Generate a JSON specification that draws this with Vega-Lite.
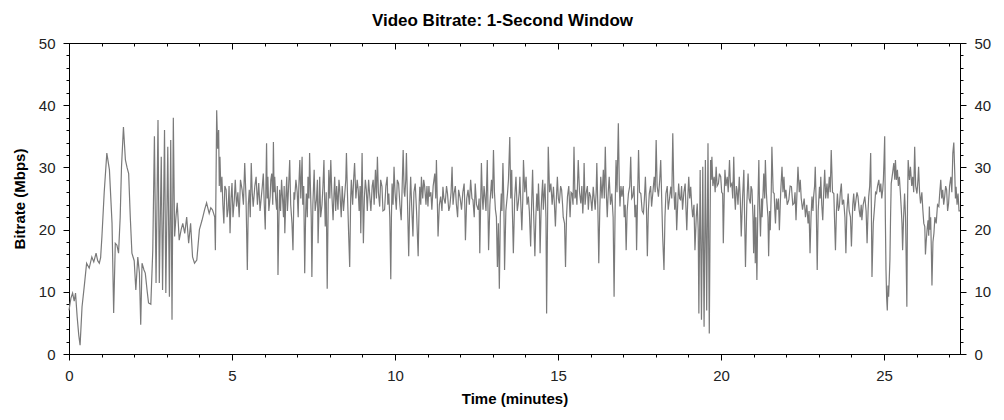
{
"$schema": "https://vega.github.io/schema/vega-lite/v6.json",
"width": 891, "height": 311,
"autosize": {"type": "none"},
"padding": {"left": 69, "top": 43, "right": 44, "bottom": 66},
"background": "white",
"title": {"text": "Video Bitrate: 1-Second Window", "font": "Liberation Sans", "fontSize": 17, "fontWeight": "bold", "color": "#000", "offset": 6, "dx": -12},
"config": {
  "view": {"stroke": "#000", "strokeWidth": 1},
  "axis": {"domainColor": "#000", "tickColor": "#000", "labelFont": "Liberation Sans", "labelFontSize": 15, "labelColor": "#222", "titleFont": "Liberation Sans", "titleFontSize": 15, "titleFontWeight": "bold", "titleColor": "#000", "grid": false, "labelFlush": false, "labelOverlap": false, "labelPadding": 8}
},
"data": {"values": [
{"t":0,"v":7},{"t":0.02,"v":7.7},{"t":0.06,"v":9},{"t":0.11,"v":9.8},{"t":0.16,"v":8.5},{"t":0.2,"v":9.8},{"t":0.25,"v":6},{"t":0.3,"v":3},{"t":0.34,"v":1.4},{"t":0.4,"v":7.6},{"t":0.47,"v":11},{"t":0.54,"v":14.6},{"t":0.62,"v":13.8},{"t":0.7,"v":15.6},{"t":0.76,"v":14.8},{"t":0.83,"v":16.2},{"t":0.88,"v":15},{"t":0.93,"v":14.6},{"t":0.97,"v":15.5},{"t":1.01,"v":18.9},{"t":1.08,"v":26},{"t":1.16,"v":32.3},{"t":1.24,"v":29.6},{"t":1.32,"v":21},{"t":1.37,"v":6.6},{"t":1.42,"v":17.8},{"t":1.47,"v":17.5},{"t":1.52,"v":16.2},{"t":1.57,"v":22},{"t":1.61,"v":30},{"t":1.67,"v":36.5},{"t":1.73,"v":31.2},{"t":1.78,"v":30},{"t":1.83,"v":29},{"t":1.88,"v":22},{"t":1.93,"v":16.2},{"t":2.0,"v":15},{"t":2.05,"v":10.3},{"t":2.11,"v":15.6},{"t":2.16,"v":13},{"t":2.2,"v":4.7},{"t":2.24,"v":14.6},{"t":2.3,"v":13.5},{"t":2.34,"v":13},{"t":2.4,"v":10},{"t":2.44,"v":8.2},{"t":2.51,"v":8},{"t":2.57,"v":16.7},{"t":2.62,"v":35},{"t":2.67,"v":11.4},{"t":2.73,"v":37.6},{"t":2.77,"v":11.4},{"t":2.83,"v":31.7},{"t":2.87,"v":10.3},{"t":2.93,"v":36},{"t":2.97,"v":9.8},{"t":3.03,"v":33.3},{"t":3.08,"v":9.2},{"t":3.12,"v":34.4},{"t":3.16,"v":5.5},{"t":3.2,"v":38},{"t":3.24,"v":18.9},{"t":3.28,"v":22},{"t":3.32,"v":24.3},{"t":3.38,"v":18.3},{"t":3.44,"v":20},{"t":3.49,"v":21},{"t":3.55,"v":19.4},{"t":3.61,"v":22},{"t":3.67,"v":17.8},{"t":3.73,"v":21},{"t":3.79,"v":15.6},{"t":3.85,"v":14.6},{"t":3.92,"v":15.1},{"t":4.0,"v":20},{"t":4.08,"v":21.5},{"t":4.16,"v":23.2},{"t":4.22,"v":24.3},{"t":4.3,"v":22.6},{"t":4.35,"v":23.5},{"t":4.4,"v":23.2},{"t":4.47,"v":22},{"t":4.49,"v":16.7},
{"t":4.53,"v":39.2},{"t":4.56,"v":33},{"t":4.59,"v":36},{"t":4.61,"v":27},{"t":4.63,"v":31.7},{"t":4.66,"v":26},{"t":4.69,"v":28.5},{"t":4.72,"v":24},{"t":4.75,"v":21},{"t":4.78,"v":27},{"t":4.82,"v":26.4},{"t":4.85,"v":22},{"t":4.88,"v":23.2},{"t":4.91,"v":27},{"t":4.94,"v":19.4},{"t":4.97,"v":25},{"t":5.0,"v":27.5},{"t":5.03,"v":22},{"t":5.07,"v":24.8},{"t":5.1,"v":28},{"t":5.14,"v":23.7},{"t":5.18,"v":26},{"t":5.22,"v":22},{"t":5.26,"v":28},{"t":5.31,"v":26.4},{"t":5.35,"v":24},{"t":5.39,"v":30.7},{"t":5.43,"v":25},{"t":5.47,"v":13.5},{"t":5.5,"v":24},{"t":5.53,"v":26.4},{"t":5.56,"v":22},{"t":5.59,"v":30.7},{"t":5.62,"v":26},{"t":5.65,"v":23.7},{"t":5.7,"v":27},{"t":5.74,"v":28.5},{"t":5.78,"v":24},{"t":5.82,"v":27.5},{"t":5.86,"v":23},{"t":5.9,"v":25.3},{"t":5.93,"v":27},{"t":5.96,"v":29},{"t":5.99,"v":24},{"t":6.02,"v":20},{"t":6.04,"v":27},{"t":6.06,"v":33.9},{"t":6.08,"v":25},{"t":6.1,"v":28.5},{"t":6.13,"v":23},{"t":6.17,"v":25.3},{"t":6.19,"v":28},{"t":6.22,"v":29},{"t":6.25,"v":24},{"t":6.27,"v":34.1},{"t":6.29,"v":26},{"t":6.31,"v":28.5},{"t":6.34,"v":25},{"t":6.37,"v":23.2},{"t":6.39,"v":27},{"t":6.41,"v":12.7},{"t":6.44,"v":22},{"t":6.46,"v":26.4},{"t":6.49,"v":23},{"t":6.52,"v":28},{"t":6.55,"v":25},{"t":6.58,"v":22},{"t":6.6,"v":27},{"t":6.62,"v":19.4},{"t":6.65,"v":25},{"t":6.68,"v":28.5},{"t":6.7,"v":23},{"t":6.72,"v":25},{"t":6.745,"v":28},{"t":6.77,"v":31.2},{"t":6.8,"v":24},{"t":6.84,"v":21},{"t":6.87,"v":16.7},{"t":6.9,"v":26},{"t":6.92,"v":24.8},{"t":6.96,"v":28},{"t":7.0,"v":26},{"t":7.03,"v":22},{"t":7.05,"v":27},{"t":7.08,"v":31.2},{"t":7.11,"v":25},{"t":7.15,"v":31.7},{"t":7.17,"v":24},{"t":7.2,"v":27},{"t":7.23,"v":13},{"t":7.26,"v":23},{"t":7.28,"v":25.8},{"t":7.31,"v":22},{"t":7.33,"v":28.5},{"t":7.36,"v":25},{"t":7.38,"v":32.3},{"t":7.41,"v":26},{"t":7.43,"v":22},{"t":7.45,"v":12.4},{"t":7.48,"v":24},{"t":7.52,"v":29.6},{"t":7.55,"v":23},{"t":7.59,"v":24.8},{"t":7.62,"v":28},{"t":7.64,"v":17.8},{"t":7.67,"v":24},{"t":7.69,"v":28.5},{"t":7.72,"v":22},{"t":7.76,"v":24},{"t":7.79,"v":27},{"t":7.82,"v":31.2},{"t":7.84,"v":25},{"t":7.86,"v":20.5},{"t":7.89,"v":26},{"t":7.92,"v":10.5},{"t":7.95,"v":24},{"t":7.97,"v":29.6},{"t":8.0,"v":25},{"t":8.03,"v":31.2},{"t":8.06,"v":26},{"t":8.1,"v":21.5},{"t":8.13,"v":26},{"t":8.15,"v":28.5},{"t":8.18,"v":23},{"t":8.21,"v":27},{"t":8.25,"v":23.2},{"t":8.28,"v":28},{"t":8.3,"v":26.9},{"t":8.33,"v":24},{"t":8.35,"v":22},{"t":8.38,"v":27},{"t":8.42,"v":23},{"t":8.46,"v":25.8},{"t":8.49,"v":28},{"t":8.51,"v":32.3},{"t":8.54,"v":26},{"t":8.58,"v":18.9},{"t":8.61,"v":14},{"t":8.64,"v":25},{"t":8.66,"v":28},{"t":8.7,"v":24},{"t":8.73,"v":28},{"t":8.76,"v":30.7},{"t":8.8,"v":25},{"t":8.84,"v":28},{"t":8.87,"v":26.4},{"t":8.9,"v":23},{"t":8.93,"v":27},{"t":8.95,"v":19.4},{"t":8.99,"v":32.3},{"t":9.03,"v":17.8},{"t":9.06,"v":25},{"t":9.09,"v":28},{"t":9.12,"v":26.4},{"t":9.15,"v":23},{"t":9.19,"v":28},{"t":9.22,"v":25.8},{"t":9.26,"v":23},{"t":9.3,"v":27},{"t":9.33,"v":28},{"t":9.36,"v":24},{"t":9.4,"v":29.6},{"t":9.43,"v":25},{"t":9.46,"v":31.7},{"t":9.49,"v":26},{"t":9.53,"v":23.7},{"t":9.56,"v":28},{"t":9.6,"v":26.9},{"t":9.63,"v":23},{"t":9.68,"v":23.2},{"t":9.72,"v":27},{"t":9.76,"v":28.5},{"t":9.78,"v":24},{"t":9.81,"v":25.8},{"t":9.84,"v":22},{"t":9.87,"v":12},{"t":9.89,"v":22},{"t":9.91,"v":27.4},{"t":9.94,"v":24},{"t":9.97,"v":30.1},{"t":10.0,"v":26},{"t":10.04,"v":23.2},{"t":10.07,"v":28},{"t":10.11,"v":27.4},{"t":10.15,"v":24},{"t":10.19,"v":21.5},{"t":10.22,"v":27},{"t":10.25,"v":32.8},{"t":10.28,"v":26},{"t":10.3,"v":25.3},{"t":10.33,"v":28},{"t":10.35,"v":32.3},{"t":10.38,"v":25},{"t":10.42,"v":15.7},{"t":10.45,"v":24},{"t":10.48,"v":28.5},{"t":10.51,"v":24},{"t":10.55,"v":18.9},{"t":10.58,"v":26},{"t":10.62,"v":27.4},{"t":10.66,"v":23},{"t":10.71,"v":15.7},{"t":10.74,"v":24},{"t":10.76,"v":26.9},{"t":10.79,"v":24},{"t":10.81,"v":28.5},{"t":10.85,"v":25},{"t":10.88,"v":28},{"t":10.91,"v":26.9},{"t":10.95,"v":24},{"t":10.98,"v":27},{"t":11.01,"v":23.7},{"t":11.04,"v":27},{"t":11.06,"v":25.3},{"t":11.1,"v":26},{"t":11.13,"v":23.2},{"t":11.17,"v":27},{"t":11.22,"v":29},{"t":11.25,"v":25},{"t":11.27,"v":31.2},{"t":11.3,"v":24},{"t":11.32,"v":18.9},{"t":11.36,"v":24},{"t":11.4,"v":25.3},{"t":11.44,"v":23},{"t":11.47,"v":26.9},{"t":11.5,"v":25},{"t":11.54,"v":24.2},{"t":11.58,"v":27},{"t":11.61,"v":25.8},{"t":11.65,"v":23},{"t":11.68,"v":23.7},{"t":11.72,"v":26},{"t":11.75,"v":30.1},{"t":11.78,"v":24},{"t":11.81,"v":25.8},{"t":11.85,"v":27},{"t":11.88,"v":24.2},{"t":11.92,"v":22},{"t":11.95,"v":26.4},{"t":12.0,"v":25},{"t":12.04,"v":23.2},{"t":12.08,"v":26},{"t":12.12,"v":27.4},{"t":12.14,"v":24},{"t":12.16,"v":18.3},{"t":12.2,"v":25},{"t":12.24,"v":26.4},{"t":12.28,"v":24},{"t":12.32,"v":28},{"t":12.36,"v":25},{"t":12.39,"v":24.8},{"t":12.43,"v":22},{"t":12.46,"v":27.4},{"t":12.5,"v":24},{"t":12.55,"v":23.2},{"t":12.58,"v":25},{"t":12.6,"v":16.2},{"t":12.63,"v":25},{"t":12.65,"v":30.7},{"t":12.68,"v":25},{"t":12.7,"v":23.2},{"t":12.73,"v":27},{"t":12.75,"v":25.8},{"t":12.79,"v":23},{"t":12.83,"v":31.2},{"t":12.85,"v":24},{"t":12.87,"v":16.7},{"t":12.91,"v":24},{"t":12.96,"v":28},{"t":12.99,"v":25},{"t":13.02,"v":32.8},{"t":13.05,"v":26},{"t":13.08,"v":23.2},{"t":13.11,"v":22},{"t":13.14,"v":14},{"t":13.17,"v":21},{"t":13.2,"v":10.5},{"t":13.23,"v":22},{"t":13.26,"v":25.8},{"t":13.28,"v":23},{"t":13.31,"v":30.7},{"t":13.34,"v":24},{"t":13.36,"v":13.5},{"t":13.4,"v":23},{"t":13.45,"v":25.8},{"t":13.48,"v":28},{"t":13.52,"v":34.9},{"t":13.55,"v":25},{"t":13.58,"v":29.6},{"t":13.6,"v":23},{"t":13.63,"v":16.2},{"t":13.67,"v":25},{"t":13.71,"v":28.5},{"t":13.75,"v":23},{"t":13.78,"v":24.2},{"t":13.81,"v":26},{"t":13.83,"v":28.5},{"t":13.86,"v":24},{"t":13.89,"v":19.9},{"t":13.92,"v":25},{"t":13.94,"v":31.2},{"t":13.98,"v":26},{"t":14.02,"v":28.5},{"t":14.05,"v":24},{"t":14.09,"v":25.3},{"t":14.12,"v":23},{"t":14.16,"v":17.3},{"t":14.19,"v":24},{"t":14.22,"v":29.6},{"t":14.25,"v":23},{"t":14.29,"v":15.7},{"t":14.32,"v":22},{"t":14.35,"v":25.8},{"t":14.38,"v":23},{"t":14.4,"v":27.4},{"t":14.43,"v":23},{"t":14.45,"v":16.2},{"t":14.48,"v":23},{"t":14.5,"v":25.3},{"t":14.53,"v":28},{"t":14.55,"v":23.2},{"t":14.58,"v":26},{"t":14.6,"v":27.4},{"t":14.63,"v":22},{"t":14.65,"v":6.5},{"t":14.68,"v":22},{"t":14.7,"v":33.3},{"t":14.74,"v":26},{"t":14.78,"v":27.4},{"t":14.82,"v":24},{"t":14.86,"v":26.9},{"t":14.89,"v":24},{"t":14.92,"v":20.5},{"t":14.95,"v":25},{"t":14.98,"v":28.5},{"t":15.01,"v":25},{"t":15.04,"v":24.2},{"t":15.08,"v":27},{"t":15.11,"v":26.4},{"t":15.14,"v":24},{"t":15.16,"v":22},{"t":15.2,"v":21},{"t":15.23,"v":14},{"t":15.26,"v":22},{"t":15.29,"v":25.3},{"t":15.33,"v":27},{"t":15.37,"v":22},{"t":15.4,"v":26},{"t":15.43,"v":25.8},{"t":15.46,"v":24},{"t":15.49,"v":33.3},{"t":15.52,"v":25},{"t":15.55,"v":26.4},{"t":15.58,"v":24},{"t":15.62,"v":31.2},{"t":15.66,"v":26},{"t":15.7,"v":24.2},{"t":15.73,"v":27},{"t":15.76,"v":22.6},{"t":15.78,"v":25},{"t":15.8,"v":30.7},{"t":15.83,"v":24},{"t":15.86,"v":25.8},{"t":15.9,"v":27},{"t":15.93,"v":23.2},{"t":15.96,"v":26},{"t":16.0,"v":25.3},{"t":16.04,"v":23},{"t":16.08,"v":26.9},{"t":16.11,"v":25},{"t":16.14,"v":23.2},{"t":16.17,"v":26},{"t":16.19,"v":30.7},{"t":16.22,"v":24},{"t":16.25,"v":14.6},{"t":16.28,"v":23},{"t":16.31,"v":28.5},{"t":16.35,"v":25},{"t":16.39,"v":29.6},{"t":16.42,"v":25},{"t":16.45,"v":33.3},{"t":16.48,"v":26},{"t":16.51,"v":22},{"t":16.54,"v":26},{"t":16.57,"v":28.5},{"t":16.61,"v":24},{"t":16.65,"v":25.8},{"t":16.69,"v":22},{"t":16.72,"v":9.2},{"t":16.75,"v":23},{"t":16.78,"v":31.2},{"t":16.81,"v":26},{"t":16.85,"v":37.1},{"t":16.88,"v":27},{"t":16.9,"v":23.7},{"t":16.93,"v":27},{"t":16.96,"v":25.3},{"t":17.0,"v":27},{"t":17.03,"v":22},{"t":17.06,"v":24},{"t":17.09,"v":16.7},{"t":17.12,"v":23},{"t":17.16,"v":25.8},{"t":17.2,"v":27},{"t":17.23,"v":31.7},{"t":17.26,"v":25},{"t":17.29,"v":25.3},{"t":17.33,"v":27},{"t":17.36,"v":22},{"t":17.39,"v":24},{"t":17.41,"v":16.7},{"t":17.44,"v":25},{"t":17.47,"v":32.8},{"t":17.5,"v":26},{"t":17.54,"v":25.8},{"t":17.58,"v":23},{"t":17.62,"v":22.6},{"t":17.65,"v":25},{"t":17.68,"v":28.5},{"t":17.71,"v":24},{"t":17.74,"v":15.7},{"t":17.77,"v":23},{"t":17.8,"v":25.8},{"t":17.84,"v":27},{"t":17.87,"v":23.7},{"t":17.91,"v":26},{"t":17.95,"v":28.5},{"t":17.98,"v":26},{"t":18.01,"v":34.4},{"t":18.04,"v":27},{"t":18.08,"v":25.3},{"t":18.12,"v":28},{"t":18.15,"v":31.2},{"t":18.18,"v":25},{"t":18.21,"v":18.9},{"t":18.25,"v":13.5},{"t":18.28,"v":22},{"t":18.31,"v":25.8},{"t":18.35,"v":27},{"t":18.38,"v":23.2},{"t":18.42,"v":25},{"t":18.46,"v":26.9},{"t":18.49,"v":25},{"t":18.52,"v":35.5},{"t":18.55,"v":27},{"t":18.58,"v":23.2},{"t":18.61,"v":26},{"t":18.64,"v":19.9},{"t":18.67,"v":24},{"t":18.7,"v":27.4},{"t":18.73,"v":25},{"t":18.76,"v":24.8},{"t":18.79,"v":27},{"t":18.82,"v":23.2},{"t":18.86,"v":26},{"t":18.9,"v":27.4},{"t":18.92,"v":24},{"t":18.95,"v":19.9},{"t":18.98,"v":25},{"t":19.01,"v":28.5},{"t":19.04,"v":25},{"t":19.07,"v":26.9},{"t":19.1,"v":24},{"t":19.13,"v":22},{"t":19.17,"v":24},{"t":19.2,"v":16.7},{"t":19.24,"v":22},{"t":19.27,"v":24.2},{"t":19.3,"v":20},{"t":19.32,"v":6.5},{"t":19.36,"v":29.6},{"t":19.4,"v":5.5},{"t":19.44,"v":30.1},{"t":19.48,"v":4.4},{"t":19.52,"v":31.2},{"t":19.56,"v":7},{"t":19.6,"v":33.9},{"t":19.64,"v":3.3},{"t":19.68,"v":31.2},{"t":19.7,"v":28},{"t":19.72,"v":31.7},{"t":19.75,"v":27},{"t":19.79,"v":28.5},{"t":19.82,"v":26},{"t":19.85,"v":30.1},{"t":19.88,"v":27},{"t":19.92,"v":27.4},{"t":19.95,"v":29},{"t":19.99,"v":28.5},{"t":20.02,"v":26},{"t":20.05,"v":25.8},{"t":20.07,"v":17.8},{"t":20.1,"v":26},{"t":20.12,"v":29.6},{"t":20.15,"v":27},{"t":20.19,"v":28.5},{"t":20.22,"v":26},{"t":20.26,"v":31.2},{"t":20.29,"v":27},{"t":20.33,"v":27.4},{"t":20.36,"v":25},{"t":20.39,"v":31.7},{"t":20.42,"v":25},{"t":20.44,"v":23.2},{"t":20.47,"v":27},{"t":20.49,"v":26.4},{"t":20.52,"v":24},{"t":20.56,"v":28.5},{"t":20.59,"v":25},{"t":20.62,"v":18.9},{"t":20.66,"v":25},{"t":20.7,"v":29.6},{"t":20.72,"v":23},{"t":20.75,"v":14},{"t":20.79,"v":24},{"t":20.83,"v":29},{"t":20.86,"v":25},{"t":20.9,"v":24.2},{"t":20.92,"v":27},{"t":20.95,"v":26.4},{"t":20.98,"v":22},{"t":21.0,"v":16.2},{"t":21.03,"v":24},{"t":21.05,"v":14.6},{"t":21.07,"v":22},{"t":21.1,"v":11.9},{"t":21.13,"v":24},{"t":21.16,"v":31.2},{"t":21.18,"v":24},{"t":21.21,"v":18.9},{"t":21.24,"v":25},{"t":21.26,"v":22},{"t":21.29,"v":26},{"t":21.31,"v":29},{"t":21.34,"v":25},{"t":21.36,"v":31.2},{"t":21.39,"v":26},{"t":21.41,"v":24.2},{"t":21.44,"v":22},{"t":21.46,"v":15.7},{"t":21.49,"v":23},{"t":21.51,"v":19.9},{"t":21.54,"v":26},{"t":21.56,"v":33.3},{"t":21.6,"v":26},{"t":21.63,"v":25.8},{"t":21.65,"v":23},{"t":21.67,"v":21},{"t":21.7,"v":25},{"t":21.73,"v":23.2},{"t":21.76,"v":25},{"t":21.79,"v":19.9},{"t":21.83,"v":26},{"t":21.87,"v":30.1},{"t":21.9,"v":26},{"t":21.93,"v":28.5},{"t":21.96,"v":25},{"t":21.99,"v":26.4},{"t":22.03,"v":24},{"t":22.08,"v":24.8},{"t":22.12,"v":27},{"t":22.16,"v":26.9},{"t":22.2,"v":24},{"t":22.24,"v":24.2},{"t":22.27,"v":26},{"t":22.3,"v":21.5},{"t":22.33,"v":26},{"t":22.36,"v":30.1},{"t":22.4,"v":26},{"t":22.43,"v":28},{"t":22.46,"v":25},{"t":22.5,"v":23.2},{"t":22.55,"v":25},{"t":22.59,"v":22},{"t":22.63,"v":24},{"t":22.67,"v":21},{"t":22.7,"v":23},{"t":22.73,"v":16.2},{"t":22.76,"v":22},{"t":22.79,"v":25.3},{"t":22.82,"v":23},{"t":22.84,"v":25.3},{"t":22.87,"v":27},{"t":22.89,"v":30.1},{"t":22.92,"v":24},{"t":22.95,"v":13.5},{"t":22.98,"v":23},{"t":23.02,"v":26.9},{"t":23.04,"v":25},{"t":23.06,"v":28.5},{"t":23.09,"v":24},{"t":23.12,"v":21.5},{"t":23.15,"v":26},{"t":23.18,"v":29.6},{"t":23.21,"v":25},{"t":23.25,"v":27.4},{"t":23.28,"v":25},{"t":23.32,"v":28.5},{"t":23.35,"v":26},{"t":23.38,"v":32.8},{"t":23.42,"v":26},{"t":23.46,"v":25.8},{"t":23.48,"v":22},{"t":23.51,"v":16.7},{"t":23.54,"v":23},{"t":23.57,"v":25.8},{"t":23.6,"v":23},{"t":23.63,"v":23.7},{"t":23.66,"v":26},{"t":23.69,"v":27.4},{"t":23.72,"v":24},{"t":23.76,"v":24.8},{"t":23.8,"v":22},{"t":23.83,"v":16.2},{"t":23.86,"v":23},{"t":23.9,"v":25.8},{"t":23.93,"v":23},{"t":23.97,"v":22},{"t":24.0,"v":17.3},{"t":24.04,"v":24},{"t":24.07,"v":25.8},{"t":24.1,"v":23},{"t":24.14,"v":24.8},{"t":24.17,"v":26},{"t":24.2,"v":25.3},{"t":24.24,"v":23},{"t":24.27,"v":22},{"t":24.3,"v":24},{"t":24.32,"v":21.5},{"t":24.36,"v":24},{"t":24.41,"v":25.3},{"t":24.45,"v":23},{"t":24.48,"v":17.8},{"t":24.51,"v":23},{"t":24.53,"v":25.3},{"t":24.56,"v":27},{"t":24.59,"v":32.3},{"t":24.61,"v":24},{"t":24.63,"v":12.4},{"t":24.67,"v":21},{"t":24.71,"v":23.7},{"t":24.74,"v":26},{"t":24.77,"v":25.8},{"t":24.8,"v":27},{"t":24.84,"v":28},{"t":24.87,"v":26},{"t":24.9,"v":27.4},{"t":24.93,"v":25},{"t":24.96,"v":26.4},{"t":24.98,"v":28},{"t":25.0,"v":31.2},{"t":25.02,"v":35},{"t":25.04,"v":22},{"t":25.06,"v":13.5},{"t":25.08,"v":9},{"t":25.1,"v":7},{"t":25.12,"v":11},{"t":25.14,"v":9.2},{"t":25.16,"v":12},{"t":25.18,"v":15.1},{"t":25.2,"v":22},{"t":25.22,"v":27.4},{"t":25.26,"v":29},{"t":25.3,"v":30.7},{"t":25.33,"v":28},{"t":25.35,"v":31.2},{"t":25.38,"v":28},{"t":25.41,"v":29.6},{"t":25.44,"v":27},{"t":25.47,"v":28.5},{"t":25.5,"v":26},{"t":25.53,"v":23.2},{"t":25.55,"v":21},{"t":25.57,"v":16.7},{"t":25.6,"v":22},{"t":25.63,"v":25.8},{"t":25.66,"v":22},{"t":25.7,"v":7.6},{"t":25.72,"v":24},{"t":25.74,"v":31.2},{"t":25.78,"v":28},{"t":25.81,"v":30.1},{"t":25.85,"v":27},{"t":25.88,"v":28.5},{"t":25.91,"v":26},{"t":25.94,"v":33.3},{"t":25.97,"v":27},{"t":26.01,"v":25.8},{"t":26.04,"v":28},{"t":26.06,"v":30.1},{"t":26.09,"v":26},{"t":26.12,"v":24.2},{"t":26.16,"v":26},{"t":26.19,"v":23.2},{"t":26.22,"v":21},{"t":26.25,"v":20.5},{"t":26.27,"v":16},{"t":26.29,"v":17.8},{"t":26.32,"v":20},{"t":26.35,"v":21.5},{"t":26.37,"v":19},{"t":26.39,"v":23.7},{"t":26.41,"v":20},{"t":26.43,"v":22},{"t":26.45,"v":17},{"t":26.47,"v":11},{"t":26.5,"v":18},{"t":26.53,"v":19.4},{"t":26.56,"v":22},{"t":26.6,"v":21},{"t":26.64,"v":24},{"t":26.68,"v":23.7},{"t":26.71,"v":26},{"t":26.74,"v":28},{"t":26.77,"v":25},{"t":26.8,"v":26.4},{"t":26.83,"v":24},{"t":26.86,"v":25.3},{"t":26.89,"v":27},{"t":26.92,"v":26.4},{"t":26.95,"v":23},{"t":26.98,"v":24.2},{"t":27.01,"v":27},{"t":27.05,"v":28.5},{"t":27.08,"v":26},{"t":27.11,"v":32.3},{"t":27.14,"v":34},{"t":27.17,"v":29},{"t":27.19,"v":25},{"t":27.21,"v":26.9},{"t":27.24,"v":24},{"t":27.27,"v":25.8},{"t":27.3,"v":23},{"t":27.33,"v":23}
]},
"layer": [
  {
    "mark": {"type": "line", "color": "#7a7a7a", "strokeWidth": 1.2},
    "encoding": {
      "x": {"field": "t", "type": "quantitative", "scale": {"domain": [0, 27.33], "nice": false, "zero": false},
        "axis": {"orient": "bottom", "title": "Time (minutes)", "titlePadding": 8, "values": [0,1,2,3,4,5,6,7,8,9,10,11,12,13,14,15,16,17,18,19,20,21,22,23,24,25,26,27],
          "labelExpr": "datum.value % 5 === 0 ? datum.label : ''",
          "tickSize": {"condition": {"test": "datum.value % 5 === 0", "value": 6}, "value": 3}}},
      "y": {"field": "v", "type": "quantitative", "scale": {"domain": [0, 50], "nice": false},
        "axis": {"orient": "left", "title": "Bitrate (Mbps)", "titlePadding": 11, "values": [0,2,4,6,8,10,12,14,16,18,20,22,24,26,28,30,32,34,36,38,40,42,44,46,48,50],
          "labelExpr": "datum.value % 10 === 0 ? datum.label : ''",
          "tickSize": {"condition": {"test": "datum.value % 10 === 0", "value": 6}, "value": 3}}}
    }
  },
  {
    "mark": {"type": "line", "strokeOpacity": 0},
    "encoding": {
      "x": {"field": "t", "type": "quantitative", "scale": {"domain": [0, 27.33], "nice": false, "zero": false},
        "axis": {"orient": "top", "title": null, "labels": false, "values": [0,1,2,3,4,5,6,7,8,9,10,11,12,13,14,15,16,17,18,19,20,21,22,23,24,25,26,27],
          "tickSize": {"condition": {"test": "datum.value % 5 === 0", "value": -6}, "value": -3}}},
      "y": {"field": "v", "type": "quantitative", "scale": {"domain": [0, 50], "nice": false},
        "axis": {"orient": "right", "title": null, "values": [0,2,4,6,8,10,12,14,16,18,20,22,24,26,28,30,32,34,36,38,40,42,44,46,48,50],
          "labelExpr": "datum.value % 10 === 0 ? datum.label : ''",
          "tickSize": {"condition": {"test": "datum.value % 10 === 0", "value": 6}, "value": 3}}}
    }
  }
],
"resolve": {"scale": {"x": "independent", "y": "independent"}}
}
